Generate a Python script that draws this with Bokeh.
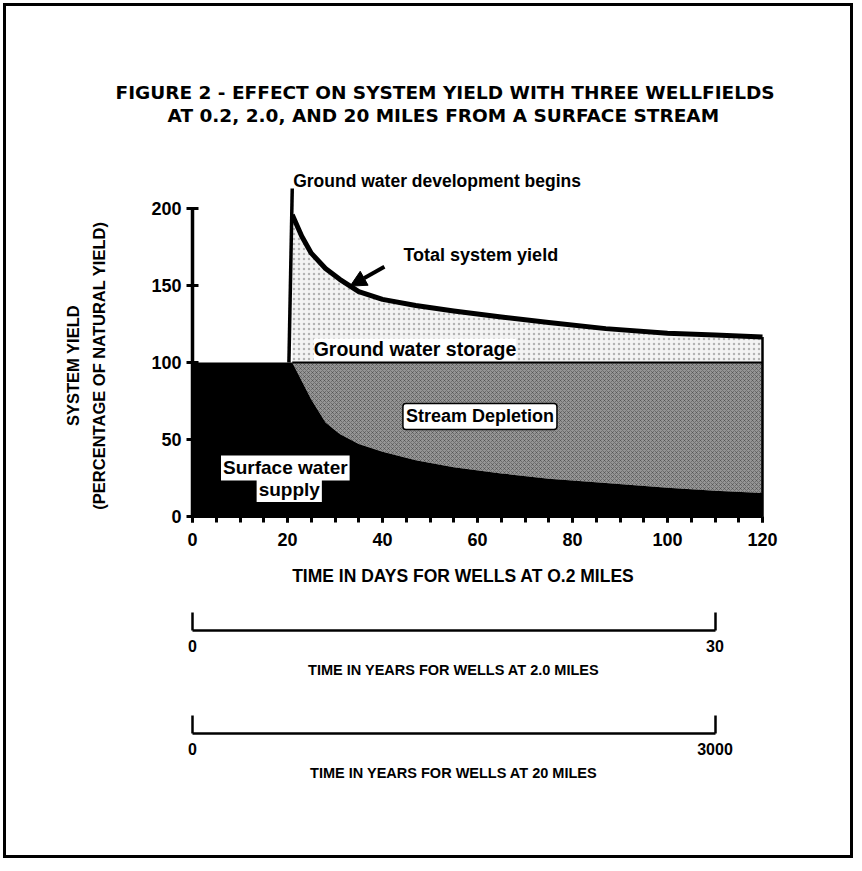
import numpy as np
from bokeh.plotting import figure
from bokeh.models import (Range1d, LinearAxis, FixedTicker, Label, Title, Arrow, NormalHead)
from bokeh.embed import file_html
from bokeh.resources import INLINE

# ---------------- data ----------------
TITLE_LINES = ["FIGURE 2 - EFFECT ON SYSTEM YIELD WITH THREE WELLFIELDS",
               "AT 0.2, 2.0, AND 20 MILES FROM A SURFACE STREAM"]
X_LABEL = "TIME IN DAYS FOR WELLS AT O.2 MILES"
Y_LABEL_LINES = ["SYSTEM YIELD", "(PERCENTAGE OF NATURAL YIELD)"]
X_MAX_DAYS = 120
X_TICKS = [0, 20, 40, 60, 80, 100, 120]
X_MINOR_TICKS = list(range(0, 125, 5))
Y_TICKS = [0, 50, 100, 150, 200]
NATURAL_YIELD = 100
DEV_START_DAY = 21
DEV_LINE_TOP = 213

days = [21, 23, 25, 28, 31, 35, 40, 47, 55, 65, 75, 87, 100, 110, 120]
total_yield = [196, 182, 171, 161, 154, 146, 141, 137, 133.5, 129.5, 126, 122, 119, 117.8, 116.5]
surface_supply = [100, 88, 76, 61, 53.5, 47, 42, 36.5, 32, 28, 24.5, 21.8, 18.6, 16.8, 15.3]

YEARS_2MI_TICKS = [0, 30]
YEARS_2MI_LABEL = "TIME IN YEARS FOR WELLS AT 2.0 MILES"
YEARS_20MI_TICKS = [0, 3000]
YEARS_20MI_LABEL = "TIME IN YEARS FOR WELLS AT 20 MILES"
SCALE_END_DAY = 110   # day on the 0.2-mile axis aligned with the end of the year scales

FONT = "Liberation Sans"
INK = "black"

# ---------------- geometry (pixels) ----------------
W, H = 850, 855
TOP = 119                     # space reserved for the two title lines
PX_X0, PX_PER_DAY = 186, 4.75     # canvas x of day 0, pixels per day
PX_Y0, PX_PER_UNIT = 510, 1.54    # canvas y of 0 % yield, pixels per % yield


def dx(px):   # horizontal pixel distance -> days
    return px / PX_PER_DAY


def dy(px):   # vertical pixel distance -> % yield
    return px / PX_PER_UNIT


x_range = Range1d(-dx(PX_X0), dx(W - PX_X0))
y_range = Range1d(-dy(H - PX_Y0), dy(PX_Y0 - TOP))

p = figure(width=W, height=H, x_range=x_range, y_range=y_range,
           output_backend="svg", toolbar_location=None,
           min_border_left=0, min_border_right=0, min_border_top=TOP, min_border_bottom=0)
p.styles = {"margin": "3px", "border": "3px solid black"}
p.title = None
p.xgrid.visible = False
p.ygrid.visible = False
p.outline_line_color = None
p.background_fill_color = "white"
p.border_fill_color = "white"

t2 = Title(text=TITLE_LINES[1], align="left", offset=161, standoff=0, text_color=INK,
           text_font="DejaVu Sans", text_font_size="18.5px", text_font_style="bold")
t1 = Title(text=TITLE_LINES[0], align="left", offset=109, standoff=0, text_color=INK,
           text_font="DejaVu Sans", text_font_size="18.5px", text_font_style="bold")
p.add_layout(t2, "above")
p.add_layout(t1, "above")

# ---------------- areas ----------------
p.varea(x=days, y1=NATURAL_YIELD, y2=total_yield, fill_color="#f3f3f3",
        hatch_pattern=".", hatch_color="#666666", hatch_scale=5, hatch_weight=1, hatch_alpha=0.45)
p.varea(x=days, y1=surface_supply, y2=NATURAL_YIELD, fill_color="#959595",
        hatch_pattern="x", hatch_color="#222222", hatch_scale=4, hatch_weight=0.7, hatch_alpha=0.5)
p.varea(x=[0] + days, y1=0, y2=[NATURAL_YIELD] + surface_supply, fill_color=INK)

p.line(x=days, y=[NATURAL_YIELD] * len(days), line_width=2, line_color=INK)
p.segment(x0=[X_MAX_DAYS], y0=[0], x1=[X_MAX_DAYS], y1=[total_yield[-1]],
          line_width=2.5, line_color=INK)
p.line(x=days, y=total_yield, line_width=5, line_color=INK, line_join="round")
p.segment(x0=[DEV_START_DAY - 0.7], y0=[NATURAL_YIELD], x1=[DEV_START_DAY], y1=[DEV_LINE_TOP],
          line_width=3.5, line_color=INK)

# arrow to total yield curve
arrow_day = 33.2
arrow_y = float(np.interp(arrow_day, days, total_yield))
p.add_layout(Arrow(end=NormalHead(size=16, fill_color=INK, line_color=INK),
                   x_start=arrow_day + 7.2, y_start=arrow_y + 12.5,
                   x_end=arrow_day, y_end=arrow_y, line_width=4, line_color=INK))


# ---------------- labels ----------------
def lab(text, x, y, size="18px", align="left", angle=0.0, **kw):
    p.add_layout(Label(x=x, y=y, text=text, text_font=FONT, text_font_size=size,
                       text_font_style="bold", text_baseline="middle", text_align=align,
                       angle=angle, text_color=INK, **kw))


lab("Ground water development begins", 21.2, 218, size="17.5px")
lab("Total system yield", 44.4, 170)
lab("Ground water storage", 25.5, 108.5, size="19.5px", background_fill_color="white")
lab("Stream Depletion", 44.3, 65, background_fill_color="white",
    border_line_color=INK, border_line_width=1.5, padding=3, border_radius=3)
lab("Surface water", 6.0, 31.5, size="19px", background_fill_color="white", padding=2)
lab("supply", 13.5, 17.5, size="19px", background_fill_color="white", padding=2)

# axis titles
y_mid = (Y_TICKS[0] + Y_TICKS[-1]) / 2 - 2
lab(Y_LABEL_LINES[0], -dx(120), y_mid, size="16.5px", align="center", angle=np.pi / 2)
lab(Y_LABEL_LINES[1], -dx(94), y_mid, size="16.5px", align="center", angle=np.pi / 2)
lab(X_LABEL, 57, -dy(59), size="17.5px", align="center")
lab(YEARS_2MI_LABEL, SCALE_END_DAY / 2, -dy(153), size="14.5px", align="center")
lab(YEARS_20MI_LABEL, SCALE_END_DAY / 2, -dy(256), size="14.5px", align="center")

# ---------------- axes ----------------
xa = p.xaxis[0]
xa.fixed_location = 0
xa.bounds = (0, X_MAX_DAYS)
xa.ticker = FixedTicker(ticks=X_TICKS, minor_ticks=X_MINOR_TICKS)
xa.axis_line_width = 3
xa.major_tick_line_width = 3
xa.minor_tick_line_width = 3
xa.major_tick_in = 0
xa.major_tick_out = 6
xa.minor_tick_in = 0
xa.minor_tick_out = 6
xa.major_label_text_font = FONT
xa.major_label_text_font_size = "18px"
xa.major_label_text_font_style = "bold"
xa.major_label_text_color = INK
xa.major_label_standoff = 10

ya = p.yaxis[0]
ya.fixed_location = 0
ya.ticker = FixedTicker(ticks=Y_TICKS, minor_ticks=[])
ya.bounds = (Y_TICKS[0], Y_TICKS[-1])
ya.axis_line_width = 3.5
ya.major_tick_line_width = 3
ya.major_tick_in = 6
ya.major_tick_out = 6
ya.major_label_text_font = FONT
ya.major_label_text_font_size = "18px"
ya.major_label_text_font_style = "bold"
ya.major_label_text_color = INK
ya.major_label_standoff = 5

# ---------------- year scales ----------------
p.extra_x_ranges = {
    "yrs2": Range1d(x_range.start * YEARS_2MI_TICKS[-1] / SCALE_END_DAY,
                    x_range.end * YEARS_2MI_TICKS[-1] / SCALE_END_DAY),
    "yrs20": Range1d(x_range.start * YEARS_20MI_TICKS[-1] / SCALE_END_DAY,
                     x_range.end * YEARS_20MI_TICKS[-1] / SCALE_END_DAY),
}


def year_axis(name, ticks, px_below):
    return LinearAxis(x_range_name=name, fixed_location=-dy(px_below),
                      ticker=FixedTicker(ticks=ticks, minor_ticks=[]),
                      bounds=(ticks[0], ticks[-1]), axis_line_width=2.5, axis_line_color=INK,
                      major_tick_line_width=2.5, major_tick_in=18, major_tick_out=0,
                      minor_tick_line_color=None,
                      major_label_text_font=FONT, major_label_text_font_size="16px",
                      major_label_text_font_style="bold", major_label_text_color=INK,
                      major_label_standoff=9)


p.add_layout(year_axis("yrs2", YEARS_2MI_TICKS, 114), "below")
p.add_layout(year_axis("yrs20", YEARS_20MI_TICKS, 217), "below")

open("out.html", "w").write(file_html(p, INLINE))
